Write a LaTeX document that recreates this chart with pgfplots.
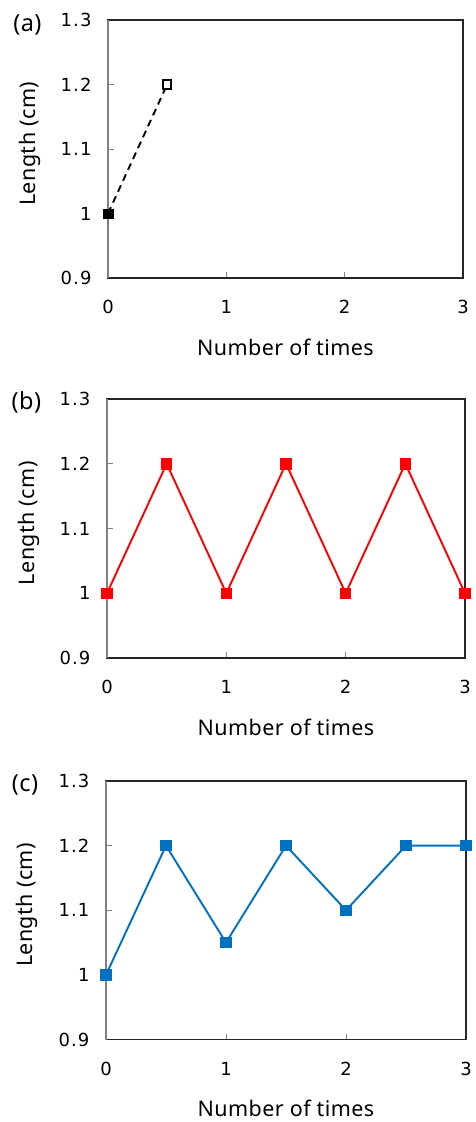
\documentclass[border=0pt]{standalone}
\usepackage{pgfplots}
\pgfplotsset{compat=1.18}
\usepackage{fontspec}
\setmainfont{Noto Sans}
\newfontfamily\tickfont[LetterSpace=6]{DejaVu Sans}
\newfontfamily\labfont[LetterSpace=2]{Noto Sans}
\definecolor{exblue}{HTML}{0070C0}
\definecolor{axgray}{HTML}{808080}
\pgfplotsset{
  panel/.style={
    scale only axis,
    xmin=0, xmax=3, ymin=0.9, ymax=1.3,
    xtick={0,1,2,3}, ytick={0.9,1,1.1,1.2,1.3},
    yticklabels={0.9,1,1.1,1.2,1.3},
    tick align=inside,
    major tick length=6pt,
    tick style={axgray, line width=0.8pt},
    xtick pos=bottom, ytick pos=left,
    axis line style={black!85, line width=1.3pt},
    /pgf/number format/assume math mode=true,
    tick label style={font=\tickfont\fontsize{18}{20}\selectfont, text=black},
    xticklabel shift=19pt,
    yticklabel shift=13pt,
    label style={font=\labfont\fontsize{21.5}{24}\selectfont},
    xlabel={Number of times},
    ylabel={Length (cm)},
    xlabel style={at={(axis description cs:0.5,-0.267)}, anchor=center},
    ylabel style={at={(axis description cs:-0.219,0.52)}, anchor=center, rotate=0},
    clip=false,
  }
}
\begin{document}
\begin{tikzpicture}
\path[use as bounding box] (0,0) rectangle (475pt,-1122pt);
% (a)
\begin{axis}[panel, at={(108pt,-20pt)}, anchor=north west, width=355pt, height=258pt]
\addplot[black, line width=1.9pt, dash pattern=on 7pt off 5pt, mark=none] coordinates {(0,1) (0.5,1.2)};
\addplot[only marks, mark=square*, mark size=4.8pt, black] coordinates {(0,1)};
\addplot[only marks, mark=square*, mark size=4.2pt, mark options={draw=black, fill=white, line width=1.8pt}] coordinates {(0.5,1.2)};
\draw[axgray, line width=1.3pt] (rel axis cs:0,0) -- (rel axis cs:0,1);
\node[font=\labfont\fontsize{23.5}{26}\selectfont] at (axis description cs:-0.227,0.98) {(a)};
\end{axis}
% (b)
\begin{axis}[panel, at={(107pt,-399pt)}, anchor=north west, width=358pt, height=259pt]
\addplot[red, line width=1.9pt, mark=square*, mark size=4.8pt] coordinates {(0,1) (0.5,1.2) (1,1) (1.5,1.2) (2,1) (2.5,1.2) (3,1)};
\draw[axgray, line width=1.3pt] (rel axis cs:0,0) -- (rel axis cs:0,1);
\node[font=\labfont\fontsize{23.5}{26}\selectfont] at (axis description cs:-0.225,0.985) {(b)};
\end{axis}
% (c)
\begin{axis}[panel, at={(106pt,-781pt)}, anchor=north west, width=360pt, height=258.5pt]
\addplot[exblue, line width=1.9pt, mark=square*, mark size=4.8pt] coordinates {(0,1) (0.5,1.2) (1,1.05) (1.5,1.2) (2,1.1) (2.5,1.2) (3,1.2)};
\draw[axgray, line width=1.3pt] (rel axis cs:0,0) -- (rel axis cs:0,1);
\node[font=\labfont\fontsize{23.5}{26}\selectfont] at (axis description cs:-0.225,0.985) {(c)};
\end{axis}
\end{tikzpicture}
\end{document}
